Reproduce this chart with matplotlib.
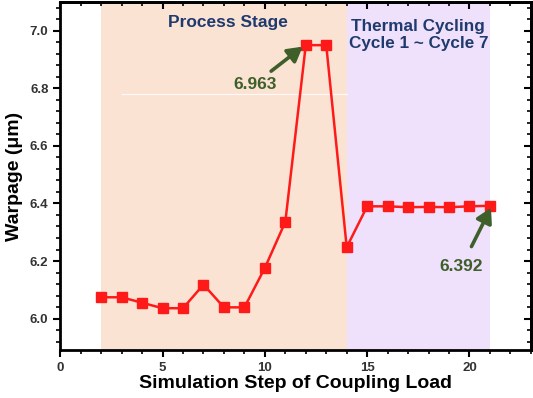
import matplotlib
matplotlib.use("Agg")
import matplotlib.pyplot as plt
from matplotlib.ticker import MultipleLocator

# data
steps = [2, 3, 4, 5, 6, 7, 8, 9, 10, 11, 12, 13, 14, 15, 16, 17, 18, 19, 20, 21]
warpage = [6.074, 6.074, 6.055, 6.036, 6.036, 6.118, 6.039, 6.039, 6.176, 6.336,
           6.950, 6.950, 6.248, 6.390, 6.390, 6.387, 6.388, 6.387, 6.390, 6.392]
process_range = (2, 14)
thermal_range = (14, 21)
peak_label = "6.963"
end_label = "6.392"

plt.rcParams['font.family'] = ['Liberation Sans', 'DejaVu Sans']

fig = plt.figure(figsize=(5.33, 3.98), dpi=100)
ax = fig.add_axes([0.113, 0.12, 0.883, 0.875])

# stage shading
ax.axvspan(*process_range, color="#fbe3d4", lw=0, zorder=0)
ax.axvspan(*thermal_range, color="#efe1fb", lw=0, zorder=0)
ax.plot([3, 14], [6.78, 6.78], color="white", lw=0.8, alpha=0.8, zorder=1)

ax.plot(steps, warpage, color="#ff1a1a", lw=1.8, marker="s", markersize=6.5,
        markerfacecolor="#ff1a1a", markeredgecolor="#ff1a1a", zorder=3)

ax.set_xlim(0, 23)
ax.set_ylim(5.89, 7.1)
ax.xaxis.set_major_locator(MultipleLocator(5))
ax.xaxis.set_minor_locator(MultipleLocator(1))
ax.yaxis.set_major_locator(MultipleLocator(0.2))
ax.yaxis.set_minor_locator(MultipleLocator(0.04))

ax.tick_params(axis="both", which="major", direction="out", length=5, width=1.5,
               labelsize=9.5, colors="black", labelcolor="#333333")
ax.tick_params(axis="both", which="minor", direction="out", length=3, width=1.2)
for lbl in ax.get_xticklabels() + ax.get_yticklabels():
    lbl.set_fontweight("bold")

# mirrored inward ticks on top/right
axt = ax.secondary_xaxis("top")
axt.xaxis.set_major_locator(MultipleLocator(5))
axt.xaxis.set_minor_locator(MultipleLocator(1))
axt.tick_params(which="major", direction="in", length=5, width=1.5, labeltop=False)
axt.tick_params(which="minor", direction="in", length=3, width=1.2)
axr = ax.secondary_yaxis("right")
axr.yaxis.set_major_locator(MultipleLocator(0.2))
axr.yaxis.set_minor_locator(MultipleLocator(0.04))
axr.tick_params(which="major", direction="in", length=5, width=1.5, labelright=False)
axr.tick_params(which="minor", direction="in", length=3, width=1.2)

for sp in list(ax.spines.values()) + [axt.spines["top"], axr.spines["right"]]:
    sp.set_linewidth(2)

ax.set_xlabel("Simulation Step of Coupling Load", fontsize=14, fontweight="bold",
              labelpad=1)
ax.set_ylabel("Warpage (μm)", fontsize=14, fontweight="bold",
              labelpad=5)

ax.text(8.2, 7.03, "Process Stage", color="#1f3a6e", fontsize=12.5,
        fontweight="bold", ha="center", va="center")
ax.text(17.5, 6.985, "Thermal Cycling\nCycle 1 ~ Cycle 7", color="#1f3a6e",
        fontsize=12.3, fontweight="bold", ha="center", va="center", linespacing=1.15)

green = "#3e5f2a"
ax.annotate(peak_label, xy=(11.85, 6.945), xytext=(9.5, 6.815),
            color=green, fontsize=12.5, fontweight="bold", ha="center", va="center",
            arrowprops=dict(arrowstyle="-|>,head_length=0.7,head_width=0.4",
                            color=green, lw=2.6, shrinkA=3, shrinkB=0))
ax.annotate(end_label, xy=(21.05, 6.385), xytext=(19.6, 6.18),
            color=green, fontsize=12.5, fontweight="bold", ha="center", va="center",
            arrowprops=dict(arrowstyle="-|>,head_length=0.7,head_width=0.4",
                            color=green, lw=2.6, shrinkA=8, shrinkB=0))

fig.savefig("out.png", dpi=100)
